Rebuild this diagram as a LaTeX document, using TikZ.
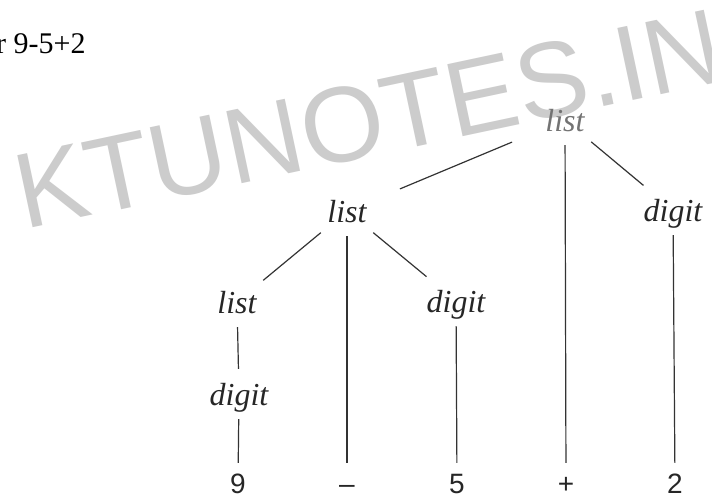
\documentclass[tikz,border=0pt]{standalone}
\usepackage{fontspec}
\setmainfont{Liberation Serif}
\newfontfamily\wmfont{Liberation Sans}
\newfontfamily\leaffont{Liberation Sans}
\definecolor{wmgray}{RGB}{204,204,204}

\begin{document}
\begin{tikzpicture}[x=1pt,y=-1pt,
    nt/.style={font=\fontsize{32}{32}\selectfont\itshape, text=black!85,
      text height=22pt, text depth=0pt, inner sep=0pt,
      minimum width=52pt, minimum height=50pt},
    leaf/.style={font=\leaffont\fontsize{28}{28}\selectfont, text=black!85,
      text height=20pt, text depth=0pt, inner sep=0pt,
      minimum width=30pt, minimum height=40pt},
    branch/.style={draw=black!80, line width=1.2pt}]
      \fill[white] (0,0) rectangle (712,495);
      \useasboundingbox (0,0) rectangle (712,495);

      % watermark
      \node[anchor=base west, inner sep=0pt, rotate=12, text=wmgray,
        font=\wmfont\fontsize{107}{107}\selectfont] (wm) at (24,230) {KTUNOTES.IN};
      \node[anchor=base west, inner sep=0pt,
        font=\fontsize{30}{30}\selectfont] (expr) at (-4,53) {r 9-5+2};

      % parse tree
      \node[nt, text=black!55] (root) at (565,120) {list};
      \node[nt] (list2) at (347,211) {list};
      \node[nt] (digR) at (673,210) {digit};
      \node[nt] (list3) at (237,302) {list};
      \node[nt] (digM) at (456,301) {digit};
      \node[nt] (dig3) at (239,394) {digit};

      \node[leaf] (nine) at (238,483) {9};
      \node[leaf] (minus) at (347,483) {–};
      \node[leaf] (five) at (457,483) {5};
      \node[leaf] (plus) at (566,483) {+};
      \node[leaf] (two) at (675,483) {2};

      \draw[branch, shorten <=29pt, shorten >=29pt] (root) -- (list2);
      \draw[branch] (root) -- (plus);
      \draw[branch] (root) -- (digR);
      \draw[branch] (list2) -- (list3);
      \draw[branch] (list2) -- (minus);
      \draw[branch] (list2) -- (digM);
      \draw[branch] (list3) -- (dig3);
      \draw[branch] (dig3) -- (nine);
      \draw[branch] (digM) -- (five);
      \draw[branch] (digR) -- (two);
\end{tikzpicture}
\end{document}
